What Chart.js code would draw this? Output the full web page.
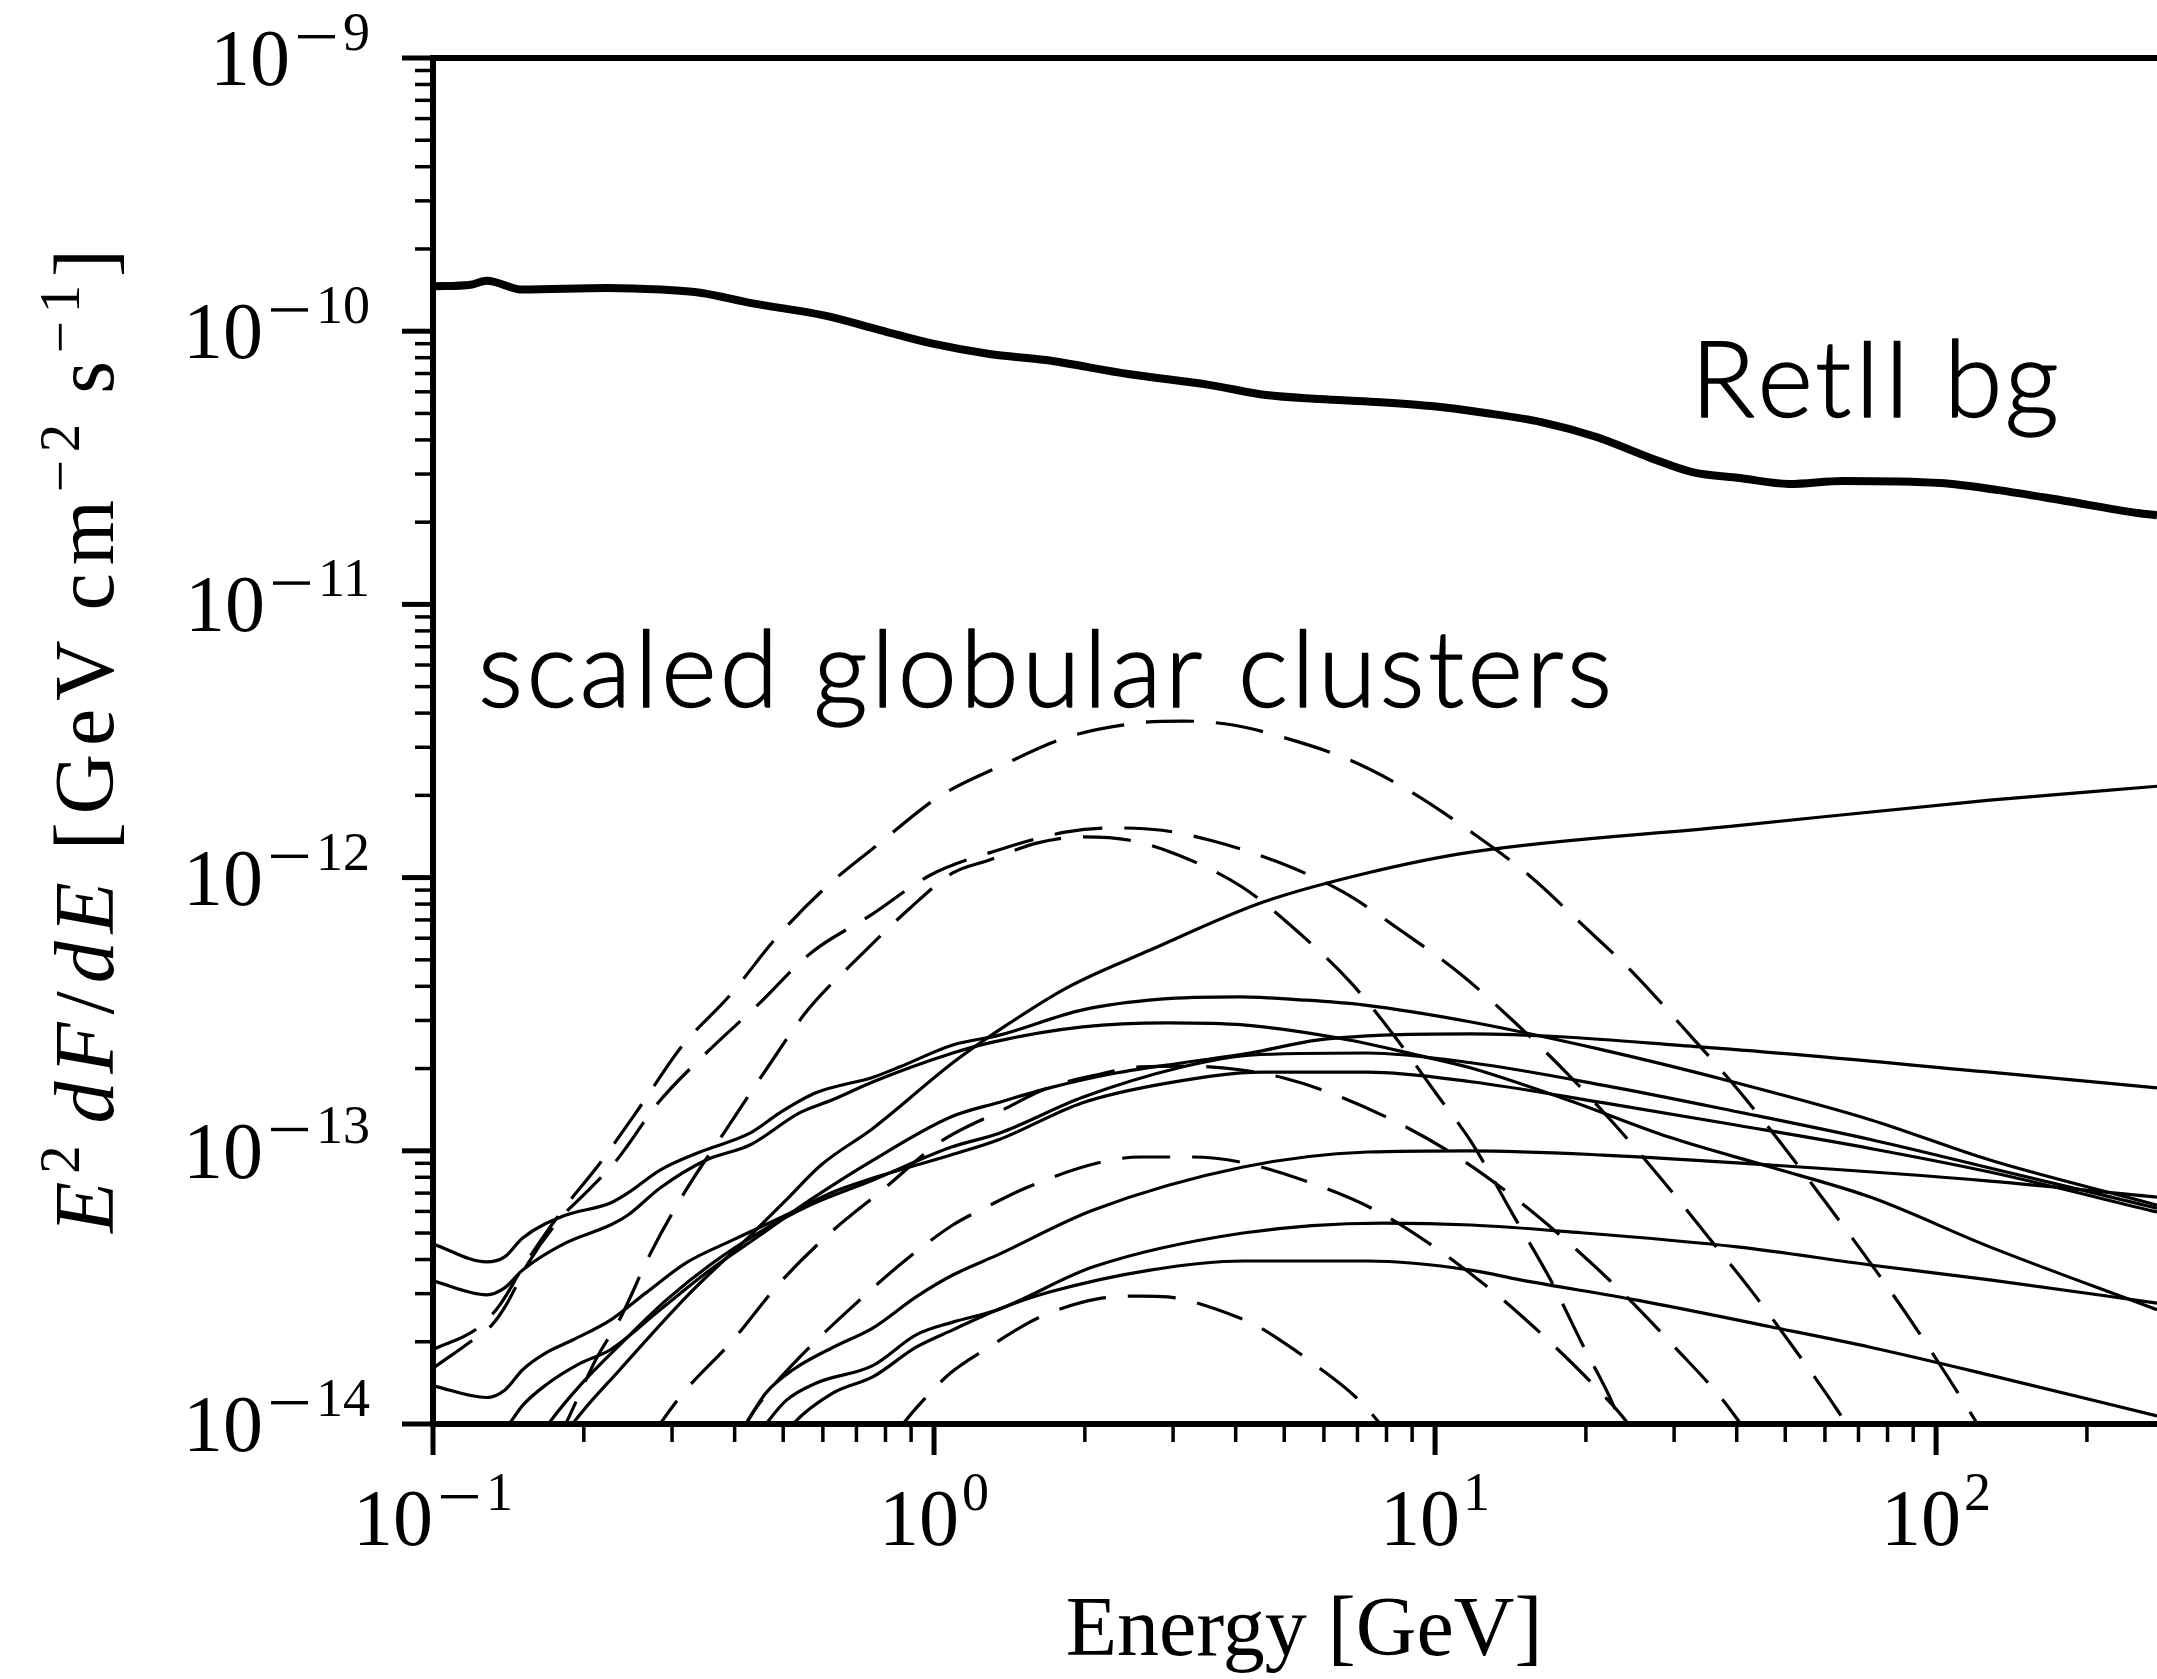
<!DOCTYPE html>
<html>
<head>
<meta charset="utf-8">
<title>RetII background vs scaled globular clusters</title>
<script src="https://cdn.jsdelivr.net/npm/chart.js@4.4.0/dist/chart.umd.min.js"></script>
<style>
  html, body { margin: 0; padding: 0; background: #fff; }
  canvas { display: block; }
</style>
</head>
<body>
<canvas id="spectra" width="2157" height="1679"></canvas>
<script>
(function () {
    "use strict";

    // Axis ticks (decade exponents)
    var xTickExponents = [-1, 0, 1, 2];
    var yTickExponents = [-14, -13, -12, -11, -10, -9];

    // RetII background (thick line)
    var bgEnergy = [0.1, 0.119, 0.128, 0.151, 0.223, 0.285, 0.344, 0.429, 0.606, 0.78, 1.0, 1.29, 1.67, 2.44, 3.56, 4.6, 5.89, 7.62, 9.82, 12.6, 16.3, 21.0, 27.0, 32.6, 40.6, 50.9, 65.2, 102, 133, 177, 252, 276];
    var bgFlux = [1.46e-10, 1.48e-10, 1.53e-10, 1.42e-10, 1.44e-10, 1.42e-10, 1.38e-10, 1.27e-10, 1.14e-10, 1.01e-10, 8.98e-11, 8.25e-11, 7.84e-11, 6.97e-11, 6.35e-11, 5.84e-11, 5.65e-11, 5.51e-11, 5.32e-11, 5.02e-11, 4.65e-11, 4.10e-11, 3.43e-11, 3.05e-11, 2.90e-11, 2.76e-11, 2.83e-11, 2.78e-11, 2.62e-11, 2.41e-11, 2.16e-11, 2.12e-11];

    // Scaled globular clusters, solid curves
    var solidA_E = [0.184, 0.190, 0.236, 0.326, 0.435, 0.507, 0.595, 0.756, 1.09, 1.35, 1.84, 2.70, 4.54, 7.32, 11.8, 38.8, 128, 276];
    var solidA_F = [9.1e-15, 1.0e-14, 1.58e-14, 3.02e-14, 5.00e-14, 6.61e-14, 8.87e-14, 1.21e-13, 2.10e-13, 2.77e-13, 3.95e-13, 5.43e-13, 8.14e-13, 1.04e-12, 1.24e-12, 1.54e-12, 1.92e-12, 2.16e-12];

    var solidB_E = [0.139, 0.142, 0.151, 0.168, 0.197, 0.226, 0.284, 0.357, 0.450, 0.566, 0.756, 1.08, 1.34, 1.70, 2.32, 3.14, 4.27, 5.81, 7.88, 11.8, 33.8, 128, 276];
    var solidB_F = [9.5e-15, 1.0e-14, 1.17e-14, 1.39e-14, 1.67e-14, 1.87e-14, 2.62e-14, 3.66e-14, 4.92e-14, 6.61e-14, 9.25e-14, 1.33e-13, 1.50e-13, 1.70e-13, 1.93e-13, 2.10e-13, 2.28e-13, 2.54e-13, 2.65e-13, 2.68e-13, 2.40e-13, 1.94e-13, 1.70e-13];

    var solidC_E = [0.160, 0.170, 0.197, 0.236, 0.292, 0.357, 0.450, 0.566, 0.756, 1.08, 1.35, 1.98, 3.14, 4.27, 7.32, 11.8, 21.6, 40.1, 73.9, 128, 276];
    var solidC_F = [8.4e-15, 1.0e-14, 1.39e-14, 1.95e-14, 2.84e-14, 3.82e-14, 5.05e-14, 6.33e-14, 7.82e-14, 1.03e-13, 1.16e-13, 1.57e-13, 2.03e-13, 2.24e-13, 2.28e-13, 2.10e-13, 1.74e-13, 1.39e-13, 1.10e-13, 8.65e-14, 6.17e-14];

    var solidD_E = [0.1, 0.128, 0.139, 0.151, 0.168, 0.190, 0.226, 0.266, 0.320, 0.397, 0.507, 0.629, 0.756, 1.08, 1.35, 1.98, 2.92, 4.54, 7.32, 11.8, 21.6, 40.1, 73.9, 128, 276];
    var solidD_F = [1.38e-14, 1.25e-14, 1.33e-14, 1.58e-14, 1.82e-14, 2.03e-14, 2.40e-14, 3.02e-14, 3.89e-14, 4.72e-14, 5.82e-14, 7.07e-14, 7.95e-14, 9.65e-14, 1.10e-13, 1.50e-13, 1.77e-13, 1.94e-13, 1.94e-13, 1.79e-13, 1.50e-13, 1.24e-13, 1.02e-13, 8.36e-14, 5.97e-14];

    var solidE_E = [0.1, 0.128, 0.139, 0.151, 0.182, 0.226, 0.245, 0.284, 0.341, 0.429, 0.493, 0.581, 0.756, 0.855, 1.09, 1.35, 1.98, 2.83, 4.08, 5.38, 7.18, 11.8, 21.6, 40.1, 73.9, 128, 276];
    var solidE_F = [4.56e-14, 3.92e-14, 4.09e-14, 4.80e-14, 5.77e-14, 6.44e-14, 7.01e-14, 8.50e-14, 9.90e-14, 1.16e-13, 1.38e-13, 1.63e-13, 1.86e-13, 2.03e-13, 2.44e-13, 2.65e-13, 3.28e-13, 3.59e-13, 3.66e-13, 3.57e-13, 3.42e-13, 2.96e-13, 2.34e-13, 1.77e-13, 1.30e-13, 9.25e-14, 6.33e-14];

    var solidF_E = [0.1, 0.128, 0.139, 0.151, 0.184, 0.226, 0.245, 0.284, 0.351, 0.429, 0.540, 0.629, 0.756, 1.09, 1.31, 1.98, 2.92, 4.14, 6.77, 9.21, 11.8, 18.3, 29.4, 46.7, 73.9, 128, 276];
    var solidF_F = [3.34e-14, 2.97e-14, 3.15e-14, 3.66e-14, 4.60e-14, 5.35e-14, 5.82e-14, 7.31e-14, 9.25e-14, 1.05e-13, 1.38e-13, 1.54e-13, 1.79e-13, 2.28e-13, 2.50e-13, 2.84e-13, 2.94e-13, 2.89e-13, 2.54e-13, 2.24e-13, 2.01e-13, 1.54e-13, 1.12e-13, 8.72e-14, 6.77e-14, 4.45e-14, 2.62e-14];

    var solidG_E = [0.406, 0.421, 0.462, 0.523, 0.629, 0.756, 0.921, 1.09, 1.34, 2.08, 4.14, 7.32, 11.8, 21.6, 46.7, 128, 276];
    var solidG_F = [9.1e-15, 1.0e-14, 1.30e-14, 1.58e-14, 1.91e-14, 2.25e-14, 2.92e-14, 3.51e-14, 4.16e-14, 6.07e-14, 8.72e-14, 9.90e-14, 1.0e-13, 9.65e-14, 8.87e-14, 7.75e-14, 6.77e-14];

    var solidH_E = [0.445, 0.462, 0.507, 0.581, 0.756, 0.921, 1.09, 1.34, 2.08, 4.14, 7.88, 11.8, 18.6, 40.1, 73.9, 128, 276];
    var solidH_F = [9.1e-15, 1.0e-14, 1.22e-14, 1.41e-14, 1.64e-14, 2.12e-14, 2.36e-14, 2.62e-14, 3.76e-14, 5.00e-14, 5.44e-14, 5.35e-14, 5.05e-14, 4.45e-14, 3.82e-14, 3.37e-14, 2.77e-14];

    var solidI_E = [0.504, 0.523, 0.629, 0.756, 0.921, 1.09, 1.34, 1.70, 2.70, 4.14, 7.32, 11.8, 14.8, 25.3, 46.7, 73.9, 128, 276];
    var solidI_F = [9.1e-15, 1.0e-14, 1.30e-14, 1.49e-14, 1.91e-14, 2.21e-14, 2.62e-14, 3.04e-14, 3.66e-14, 3.95e-14, 3.95e-14, 3.66e-14, 3.37e-14, 2.84e-14, 2.27e-14, 1.91e-14, 1.51e-14, 1.07e-14];

    // Scaled globular clusters, dashed curves
    var dashA_E = [0.1, 0.123, 0.136, 0.150, 0.167, 0.186, 0.214, 0.259, 0.313, 0.392, 0.484, 0.609, 0.784, 1.02, 1.37, 1.85, 2.55, 3.14, 3.95, 4.95, 6.77, 9.04, 11.8, 15.5, 19.7, 25.1, 31.3, 39.2, 48.2, 58.7, 71.5, 86.7, 104, 121, 134];
    var dashA_F = [1.87e-14, 2.25e-14, 2.73e-14, 3.66e-14, 4.92e-14, 6.44e-14, 8.87e-14, 1.45e-13, 2.40e-13, 3.72e-13, 6.01e-13, 9.24e-13, 1.35e-12, 1.97e-12, 2.58e-12, 3.27e-12, 3.68e-12, 3.74e-12, 3.62e-12, 3.27e-12, 2.69e-12, 2.04e-12, 1.47e-12, 1.01e-12, 6.71e-13, 4.40e-13, 2.82e-13, 1.77e-13, 1.11e-13, 6.89e-14, 4.23e-14, 2.57e-14, 1.55e-14, 1.0e-14, 7.45e-15];

    var dashB_E = [0.1, 0.120, 0.131, 0.140, 0.155, 0.182, 0.197, 0.231, 0.245, 0.279, 0.351, 0.445, 0.568, 0.749, 0.982, 1.34, 1.84, 2.28, 2.85, 3.56, 4.86, 6.55, 8.63, 11.3, 14.4, 18.3, 22.9, 28.4, 35.1, 43.1, 52.3, 63.4, 67.3];
    var dashB_F = [1.60e-14, 2.03e-14, 2.30e-14, 2.73e-14, 3.89e-14, 5.82e-14, 6.72e-14, 9.10e-14, 1.05e-13, 1.47e-13, 2.28e-13, 3.42e-13, 5.30e-13, 7.30e-13, 1.02e-12, 1.26e-12, 1.47e-12, 1.52e-12, 1.49e-12, 1.37e-12, 1.14e-12, 8.86e-13, 6.32e-13, 4.40e-13, 2.96e-13, 1.93e-13, 1.24e-13, 7.82e-14, 4.84e-14, 3.02e-14, 1.87e-14, 1.13e-14, 9.5e-15];

    var dashC_E = [0.175, 0.184, 0.202, 0.212, 0.237, 0.272, 0.320, 0.384, 0.462, 0.560, 0.705, 0.896, 1.09, 1.29, 1.61, 1.98, 2.46, 3.07, 4.12, 5.33, 6.77, 8.32, 10.1, 11.8, 14.4, 17.0, 19.7, 22.7, 23.9];
    var dashC_F = [8.4e-15, 1.0e-14, 1.45e-14, 1.74e-14, 2.46e-14, 4.23e-14, 7.19e-14, 1.19e-13, 1.98e-13, 3.28e-13, 5.08e-13, 7.74e-13, 1.04e-12, 1.16e-12, 1.34e-12, 1.41e-12, 1.37e-12, 1.21e-12, 9.24e-13, 6.32e-13, 4.15e-13, 2.61e-13, 1.60e-13, 1.08e-13, 5.72e-14, 3.37e-14, 1.95e-14, 1.17e-14, 9.1e-15];

    var dashD_E = [0.271, 0.284, 0.316, 0.397, 0.488, 0.620, 0.798, 1.03, 1.37, 1.69, 2.15, 2.58, 3.21, 4.08, 4.97, 6.17, 8.40, 11.1, 14.6, 18.8, 23.9, 30.1, 37.6, 41.6];
    var dashD_F = [8.7e-15, 1.0e-14, 1.30e-14, 2.03e-14, 3.23e-14, 5.00e-14, 7.31e-14, 1.08e-13, 1.41e-13, 1.70e-13, 1.91e-13, 2.03e-13, 2.04e-13, 1.98e-13, 1.85e-13, 1.63e-13, 1.27e-13, 9.49e-14, 6.61e-14, 4.48e-14, 2.97e-14, 1.91e-14, 1.22e-14, 9.5e-15];

    var dashE_E = [0.406, 0.421, 0.462, 0.540, 0.683, 0.879, 1.09, 1.26, 1.54, 2.12, 2.58, 3.27, 4.08, 5.58, 7.59, 10.1, 13.1, 16.7, 21.2, 24.3, 25.1];
    var dashE_F = [8.7e-15, 1.0e-14, 1.28e-14, 1.76e-14, 2.66e-14, 3.99e-14, 5.35e-14, 6.17e-14, 7.37e-14, 9.02e-14, 9.49e-14, 9.49e-14, 9.10e-14, 7.69e-14, 6.07e-14, 4.37e-14, 3.04e-14, 2.05e-14, 1.33e-14, 1.0e-14, 9.1e-15];

    var dashF_E = [0.836, 0.867, 0.951, 1.08, 1.28, 1.54, 1.70, 2.12, 2.58, 2.93, 3.24, 4.04, 4.41, 5.35, 5.81, 6.96, 7.77, 8.06];
    var dashF_F = [9.1e-15, 1.0e-14, 1.22e-14, 1.54e-14, 1.90e-14, 2.34e-14, 2.55e-14, 2.87e-14, 2.94e-14, 2.92e-14, 2.82e-14, 2.46e-14, 2.29e-14, 1.82e-14, 1.63e-14, 1.25e-14, 1.0e-14, 9.1e-15];


    var SERIF = '"Liberation Serif", "Times New Roman", serif';
    var SANS = 'Lato, Roboto, "Open Sans", sans-serif';
    var X_FULL_MAX = 300; // matplotlib xlim ends a little past the cropped edge

    function pts(E, F) {
        return E.map(function (e, i) { return {x: e, y: F[i]}; });
    }

    function solid(E, F) {
        return {data: pts(E, F), borderColor: "#000", borderWidth: 3.2, borderJoinStyle: "round",
                cubicInterpolationMode: "monotone"};
    }

    function dashed(E, F) {
        return {data: pts(E, F), borderColor: "#000", borderWidth: 3.2, borderDash: [48, 22],
                cubicInterpolationMode: "monotone"};
    }

    var datasets = [
        {data: pts(bgEnergy, bgFlux), borderColor: "#000", borderWidth: 8, borderJoinStyle: "round",
         cubicInterpolationMode: "monotone"},
        solid(solidA_E, solidA_F),
        solid(solidB_E, solidB_F),
        solid(solidC_E, solidC_F),
        solid(solidD_E, solidD_F),
        solid(solidE_E, solidE_F),
        solid(solidF_E, solidF_F),
        solid(solidG_E, solidG_F),
        solid(solidH_E, solidH_F),
        solid(solidI_E, solidI_F),
        dashed(dashA_E, dashA_F),
        dashed(dashB_E, dashB_F),
        dashed(dashC_E, dashC_F),
        dashed(dashD_E, dashD_F),
        dashed(dashE_E, dashE_F),
        dashed(dashF_E, dashF_F)
    ];

    // "10" with a raised exponent, LaTeX style
    function drawPower(ctx, exp, xRef, baseY, align) {
        var main = "80px " + SERIF, sup = "54px " + SERIF;
        ctx.font = main;
        var wBase = ctx.measureText("10").width;
        var digits = String(Math.abs(exp));
        ctx.font = sup;
        var wDig = ctx.measureText(digits).width;
        var neg = exp < 0, minusW = 37, gap = 8;
        var total = wBase + (neg ? gap + minusW + gap : 3) + wDig;
        var x = align === "center" ? xRef - total / 2 : xRef - total;
        ctx.font = main;
        ctx.fillText("10", x, baseY);
        x += wBase;
        var supBase = baseY - 35;
        if (neg) {
            x += gap;
            ctx.fillRect(x, supBase - 15, minusW, 3.4);
            x += minusW + gap;
        } else {
            x += 3;
        }
        ctx.font = sup;
        ctx.fillText(digits, x, supBase);
    }

    // text drawn char by char, spread to a given width (light face, slightly thickened)
    function spreadText(ctx, text, x, y, width) {
        var chars = Array.from(text);
        var ws = chars.map(function (c) { return ctx.measureText(c).width; });
        var natural = ws.reduce(function (a, b) { return a + b; }, 0);
        var extra = chars.length > 1 ? (width - natural) / (chars.length - 1) : 0;
        ctx.lineWidth = 1.4;
        ctx.lineJoin = "round";
        chars.forEach(function (c, i) {
            ctx.fillText(c, x, y);
            ctx.strokeText(c, x, y);
            x += ws[i] + extra;
        });
    }

    function drawYTitle(ctx, baseX, cy, length) {
        var size = 84, supSize = 57;
        var roman = size + "px " + SERIF, ital = "italic " + size + "px " + SERIF, sup = supSize + "px " + SERIF;
        var parts = [
            {t: "E", f: ital}, {t: "2", f: sup, up: true}, {sp: 14},
            {t: "dF", f: ital}, {t: "/", f: roman}, {t: "dE", f: ital}, {sp: 24},
            {t: "[GeV", f: roman}, {sp: 22}, {t: "cm", f: roman}, {t: "\u22122", f: sup, up: true}, {sp: 22},
            {t: "s", f: roman}, {t: "\u22121", f: sup, up: true}, {t: "]", f: roman}
        ];
        var natural = 0, nChars = 0;
        parts.forEach(function (p) {
            if (p.sp) { natural += p.sp; return; }
            ctx.font = p.f;
            Array.from(p.t).forEach(function (c) { natural += ctx.measureText(c).width; nChars++; });
        });
        var extra = (length - natural) / (nChars - 1);
        ctx.save();
        ctx.translate(baseX, cy);
        ctx.rotate(-Math.PI / 2);
        var x = -length / 2;
        parts.forEach(function (p) {
            if (p.sp) { x += p.sp; return; }
            ctx.font = p.f;
            var y = p.up ? -34 : 0;
            Array.from(p.t).forEach(function (c) {
                ctx.fillText(c, x, y);
                x += ctx.measureText(c).width + extra;
            });
        });
        ctx.restore();
    }

    var latexAxes = {
        id: "latexAxes",
        afterDraw: function (chart) {
            var ctx = chart.ctx, a = chart.chartArea;
            var xs = chart.scales.x, ys = chart.scales.y;
            ctx.save();
            ctx.strokeStyle = "#000";
            ctx.fillStyle = "#000";

            // frame: top, left, bottom (right edge is cropped off)
            ctx.lineWidth = 6;
            ctx.lineJoin = "miter";
            ctx.beginPath();
            ctx.moveTo(a.right + 20, a.top);
            ctx.lineTo(a.left, a.top);
            ctx.lineTo(a.left, a.bottom);
            ctx.lineTo(a.right + 20, a.bottom);
            ctx.stroke();

            // ticks
            ctx.lineCap = "butt";
            function tick(isX, v, len, w) {
                ctx.lineWidth = w;
                ctx.beginPath();
                if (isX) {
                    var px = xs.getPixelForValue(v);
                    ctx.moveTo(px, a.bottom);
                    ctx.lineTo(px, a.bottom + len);
                } else {
                    var py = ys.getPixelForValue(v);
                    ctx.moveTo(a.left, py);
                    ctx.lineTo(a.left - len, py);
                }
                ctx.stroke();
            }
            var d, m, v;
            for (d = -1; d <= 2; d++) {
                for (m = 2; m <= 9; m++) {
                    v = m * Math.pow(10, d);
                    if (v <= xs.max) tick(true, v, 18, 3.5);
                }
            }
            for (d = -14; d <= -10; d++) {
                for (m = 2; m <= 9; m++) tick(false, m * Math.pow(10, d), 18, 3.5);
            }
            xTickExponents.forEach(function (e) { tick(true, Math.pow(10, e), 31, 5); });
            yTickExponents.forEach(function (e) { tick(false, Math.pow(10, e), 31, 5); });

            // tick labels
            ctx.textBaseline = "alphabetic";
            ctx.textAlign = "left";
            xTickExponents.forEach(function (e) {
                drawPower(ctx, e, xs.getPixelForValue(Math.pow(10, e)), a.bottom + 121, "center");
            });
            yTickExponents.forEach(function (e) {
                drawPower(ctx, e, a.left - 63, ys.getPixelForValue(Math.pow(10, e)) + 27, "right");
            });

            // axis titles
            var xMid = xs.getPixelForValue(Math.sqrt(xs.min * X_FULL_MAX));
            ctx.font = "84px " + SERIF;
            ctx.textAlign = "center";
            ctx.fillText("Energy [GeV]", xMid, a.bottom + 231);
            ctx.textAlign = "left";
            drawYTitle(ctx, 113, (a.top + a.bottom) / 2, 984);

            // annotations
            ctx.font = "300 106px " + SANS;
            spreadText(ctx, "scaled globular clusters", xs.getPixelForValue(0.123), ys.getPixelForValue(4.2e-12), 1134);
            spreadText(ctx, "RetII bg", xs.getPixelForValue(32.4), ys.getPixelForValue(4.85e-11), 368);
            ctx.restore();
        }
    };

    new Chart(document.getElementById("spectra"), {
        type: "line",
        data: {datasets: datasets},
        options: {
            responsive: false,
            animation: false,
            devicePixelRatio: 1,
            layout: {padding: {left: 433, top: 58, right: 0, bottom: 255}},
            plugins: {legend: {display: false}, tooltip: {enabled: false}},
            elements: {point: {radius: 0}, line: {tension: 0, fill: false}},
            scales: {
                x: {type: "logarithmic", min: 0.1, max: 276, display: false},
                y: {type: "logarithmic", min: 1e-14, max: 1e-9, display: false}
            }
        },
        plugins: [latexAxes]
    });
})();
</script>
</body>
</html>
